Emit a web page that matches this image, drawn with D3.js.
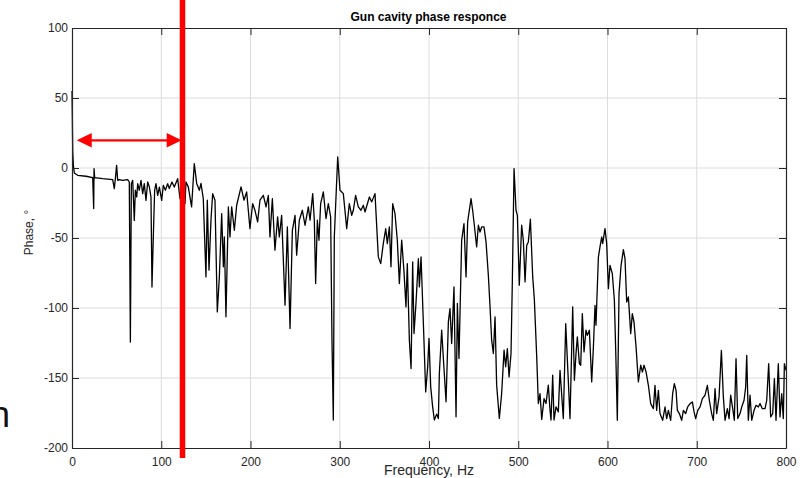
<!DOCTYPE html>
<html>
<head>
<meta charset="utf-8">
<script src="https://cdn.jsdelivr.net/npm/d3@7"></script>
<style>
  html, body { margin: 0; padding: 0; background: #fff; }
  svg { display: block; }
  text { font-family: "Liberation Sans", Arial, Helvetica, sans-serif; }
</style>
</head>
<body>
<svg id="chart" width="800" height="478"></svg>
<script>
// ---------------- data ----------------
const chartTitle = "Gun cavity phase responce";
const xLabel = "Frequency, Hz";
const yLabel = "Phase, \u00B0";
const xTicks = [0, 100, 200, 300, 400, 500, 600, 700, 800];
const yTicks = [100, 50, 0, -50, -100, -150, -200];

// frequency (Hz)
const freqHz = [
  0, 0.4, 0.8, 1.5, 2.6, 6.3, 15.7, 23.2, 24.3, 24.7, 25.4, 34.4, 45.6, 47.4, 48.6, 50, 51.2, 53, 56.8, 62.4,
  64.2, 65.4, 66.5, 68, 69.8, 71, 72.5, 73.6, 75.4, 77.3, 79.2, 81, 82.9, 84.8, 86.7, 88.5, 89.6, 91.1, 92.6, 94.1,
  96, 97.9, 100.5, 102.3, 104.6, 107.2, 109, 112, 114.6, 118.4, 121, 123.5,
  126.6, 127.7, 130.3, 134, 137, 139.7, 142.7, 144.5, 147.1, 150.1, 151.6, 153.5, 155.7, 157.6, 160.2, 162.8, 165.1, 167.7,
  169.6, 170.7, 172.5, 175.2, 177, 178.9, 181.9, 184.5, 189.4, 192.7, 195.7, 199.4, 202.4, 205, 208, 210.6, 214.4, 217.4,
  220, 221.8, 224.5, 227.4, 230.4, 232.3, 234.9, 238.7, 241.3, 244.3, 246.9, 249.9, 251.7, 254.7, 258.1, 261.1, 264.8, 266.7,
  269.7, 271.5, 273, 274.9, 276.7, 278.6, 281.6, 284.6, 287.2, 289.8, 291.3, 292.8, 293.9, 297.7, 300.3, 304, 307.8, 310.7,
  313.4, 315.2, 317.8, 320.8, 323.8, 326.4, 328.3, 333.2, 335.8, 339.5,
  343.2, 345.9, 348.8, 351.5, 353.3, 355.6, 357.4, 359.3, 361.9, 364.5, 366.8, 369.4, 372, 374.2, 375.7, 378, 379.9, 381.7,
  383.2, 385.4, 388.1, 389.2, 391.1, 393.7, 396.3, 398.5, 400, 401.9, 404.1, 406, 408.6, 410.5, 411.6, 414.2, 416.1, 419.1,
  421.7, 423.5, 425.4, 428, 430.3, 431.8, 433.6, 436.6, 439.2, 441.5, 443.3, 447.1, 448.9, 450.8, 453.4, 455.3, 457.2, 459,
  461.6, 463.9, 466.5, 468.4, 470.2, 472.1, 474, 475.8, 478.8, 481.4, 484.1, 485.9, 487.8, 489.7, 491.9, 493.4, 495.3, 497.5,
  499, 501.2, 503.8, 505.7, 507.6, 509.5, 511.3, 513.6, 516.2, 518, 520.7, 522.5, 524.4, 526.3, 528.9, 531.1, 533.7, 535.6,
  536.7, 538.6, 540.1, 542.3, 544.9,
  546.8, 550.5, 553.2, 555.4, 558, 561, 562.9, 564.7, 566.2, 568.5, 570, 571.8, 573.7, 575.9, 577.4, 579.7, 582.3, 584.2,
  586, 587.1, 589.8, 591.6, 593.5, 594.6, 597.2, 599.1, 601, 602.8, 605.4, 607.7, 609.2, 611, 612.9, 615.2, 617.8, 619.6,
  621.5, 623.4, 626, 627.8, 629.7, 632, 634.6, 637.2, 639.1, 640.9, 643.2, 645.8, 648.4, 651.4, 653.2, 655.1, 657, 658.8,
  661.8, 664.5, 666.3, 668.2, 670.8, 673, 674.9, 676.8, 678.3, 680.5, 683.1, 685, 687.6, 689.8, 692.5, 695.1, 697, 698.8,
  701.1, 703.7, 706.3, 709.3, 711.9, 714.1, 716.7, 718.6, 720.5, 722.3, 725, 727.6, 729.8, 731.7, 734.3, 736.2, 738, 740.3,
  742.1, 744, 745.9, 748.5, 750.4, 753, 754.8, 756, 757.8, 759.7, 761.6, 764.2, 766.4, 769, 770.9, 773.5, 776.5, 778.4,
  780.6, 782.8, 785.1, 787, 788.8, 791.4, 793.3, 795.2, 797, 798.2, 800
];

// phase (degrees)
const phaseDeg = [
  55, 35, 12, 2, -3.6, -5.2, -5.9, -6.9, -29, -0.5, -6.9, -7.6, -8.3, -14.7, -7.6, 1.9, -8.8, -8.3, -8.8, -8.3,
  -10, -124.3, -11.2, -8.8, -37.4, -15.9, -20.7, -11.2, -15.9, -8.8, -18.3, -11.2, -23.1, -10, -13.6, -20.7, -85, -49.3, -15.9, -11.2,
  -19.5, -13.6, -23.1, -12.4, -15.9, -11.2, -14.7, -10, -13.6, -7.6, -21.9, -12,
  -25.4, -10, -13.5, -27.8, 3.1, -11, -15.9, -11, -21.9, -77.8, -23, -73, -37.3, -18.3, -23, -102.8, -77.8, -32.6,
  -70.6, -49.2, -106.3, -27.8, -49.2, -27.8, -44.5, -26.6, -13.5, -23, -17.1, -43.3, -25.4, -30.2, -38.5, -23, -19.5, -27.8,
  -19.5, -49.2, -21.9, -58.7, -34.9, -49.2, -33.8, -98, -42.1, -114.7, -44.5, -33.8, -62.3, -37.3, -30.2, -40.9, -27.8, -37.3,
  -18.3, -37.3, -82.5, -37.3, -51.6, -25.4, -17.1, -36.1, -25.4, -34.9, -123, -180, -49.2, 7.9, -15.9, -18.3, -43.3, -25.4,
  -33.8, -30.2, -19.5, -27.8, -30.2, -26.6, -31.4, -20.7, -24.2, -18.3,
  -63.5, -68.3, -54, -43.3, -54, -42.1, -70.6, -25.4, -32.6, -51.6, -82.5, -51.6, -74.2, -99.2, -68.3, -123, -143.2, -67.1,
  -118.2, -96.8, -64.7, -84.9, -63.5, -111.1, -159.9, -142, -121.8, -156.3, -170.6, -180, -175.8, -178.9, -146.8, -115.9, -136.1, -167,
  -109.9, -100.4, -125.4, -84.9, -177.7, -96.8, -136.1, -51.6, -39.7, -77.8, -38.5, -21.9, -30.2, -40.9, -56.4, -40.9, -45.7, -42.1,
  -42.1, -52.8, -76.6, -99.2, -123, -132.5, -106.3, -155.1, -178.9, -161.1, -130.1, -142, -129, -149.2, -132.5, -80.2, -0.4, -30.2,
  -33.8, -83.7, -40.9, -51.6, -81.4, -55.2, -52.8, -36.6, -77.8, -93.3, -134.9, -168.2, -161.1, -179.6, -164.7, -168.2, -155.1, -173,
  -180, -148, -180, -170.6, -174.2,
  -144.5, -179, -111.2, -142.1, -179, -99.3, -151.6, -132.6, -120.7, -139.7, -140.9, -104, -131.4, -115.9, -119.5, -115.9, -152.8, -127.8,
  -98.1, -112.3, -63.6, -56.4, -49.3, -54, -43.3, -54, -86.2, -69.5, -75.5, -94.5, -130.2, -180.2, -89.7, -69.5, -58.3, -64.7,
  -95.7, -92.1, -118.3, -104, -110, -127.8, -152.8, -140.9, -145.7, -140.9, -145.7, -155.2, -168.3, -171.9, -155.2, -173.1, -158.8, -175.4,
  -180.2, -170.7, -179, -173.1, -180.2, -161.1, -154, -158.8, -173.1, -175.4, -180.2, -173.1, -175.4, -170.7, -168.3, -167.1, -174.2, -179,
  -173.1, -170.7, -164.7, -162.3, -155.2, -165.9, -175.4, -180.2, -157.6, -175.4, -163.5, -130.2, -163.5, -180.2, -171.9, -179, -162.3, -171.9,
  -180.2, -136.2, -179, -175.4, -170.7, -165.9, -156.4, -133.8, -180.2, -162.3, -180.2, -173.1, -169.5, -170.7, -168.3, -171.9, -171.9, -165.9,
  -139.7, -177.8, -175.4, -150.4, -180.2, -139.7, -177.8, -161.1, -179, -139.7, -144.5
];

// annotation (Hz / degrees)
const markerFreq = 123.8;            // red vertical marker
const arrowFreqRange = [5.3, 122.9]; // red double arrow
const arrowPhase = 19.8;

// ---------------- drawing ----------------
const svg = d3.select("#chart");
const x = d3.scaleLinear().domain([0, 800]).range([72, 786]);
const y = d3.scaleLinear().domain([-200, 100]).range([448, 28]);
const axisColor = "#262626";
const fmt = d => String(d); // plain hyphen-minus like the reference

// grid
const grid = svg.append("g");
grid.selectAll("line.gx").data(xTicks.slice(1, -1)).enter().append("line")
  .attr("x1", d => x(d)).attr("x2", d => x(d)).attr("y1", y(100)).attr("y2", y(-200))
  .attr("stroke", "#dcdcdc").attr("stroke-width", 1);
grid.selectAll("line.gy").data(yTicks.slice(1, -1)).enter().append("line")
  .attr("y1", d => y(d)).attr("y2", d => y(d)).attr("x1", x(0)).attr("x2", x(800))
  .attr("stroke", "#dcdcdc").attr("stroke-width", 1);

// data line
const pts = freqHz.map((f, i) => [f, phaseDeg[i]]);
svg.append("path")
  .datum(pts)
  .attr("fill", "none")
  .attr("stroke", "#000")
  .attr("stroke-width", 1.3)
  .attr("stroke-linejoin", "round")
  .attr("d", d3.line().x(d => x(d[0])).y(d => y(d[1])));

// axes (MATLAB-like box, inward ticks)
const tickLen = 7;
const xAxisB = d3.axisBottom(x).tickValues(xTicks).tickSizeInner(-tickLen).tickSizeOuter(0).tickFormat(fmt);
const xAxisT = d3.axisTop(x).tickValues(xTicks).tickSizeInner(-tickLen).tickSizeOuter(0).tickFormat("");
const yAxisL = d3.axisLeft(y).tickValues(yTicks).tickSizeInner(-tickLen).tickSizeOuter(0).tickFormat(fmt);
const yAxisR = d3.axisRight(y).tickValues(yTicks).tickSizeInner(-tickLen).tickSizeOuter(0).tickFormat("");

function styleAxis(g) {
  g.select(".domain").attr("stroke", axisColor).attr("stroke-width", 1.2);
  g.selectAll(".tick line").attr("stroke", axisColor).attr("stroke-width", 1);
  g.selectAll(".tick text").attr("fill", axisColor).style("font-size", "12px")
    .style("font-family", '"Liberation Sans", Arial, sans-serif');
}
svg.append("g").attr("transform", `translate(0,${y(-200)})`).call(xAxisB).call(styleAxis)
  .selectAll(".tick text").attr("dy", null).attr("y", 18);
svg.append("g").attr("transform", `translate(0,${y(100)})`).call(xAxisT).call(styleAxis);
svg.append("g").attr("transform", `translate(${x(0)},0)`).call(yAxisL).call(styleAxis)
  .selectAll(".tick text").attr("x", -4);
svg.append("g").attr("transform", `translate(${x(800)},0)`).call(yAxisR).call(styleAxis);

// labels
svg.append("text").attr("x", 428.5).attr("y", 21).attr("text-anchor", "middle")
  .style("font-size", "12px").style("font-weight", "bold").attr("fill", "#000").text(chartTitle);
svg.append("text").attr("x", 429).attr("y", 475).attr("text-anchor", "middle")
  .style("font-size", "14px").attr("fill", axisColor).text(xLabel);
svg.append("text").attr("transform", "translate(33,232.5) rotate(-90)").attr("text-anchor", "middle")
  .style("font-size", "12px").attr("fill", axisColor).text(yLabel);

// clipped stray glyph at left edge (as in the reference)
svg.append("text").attr("x", -10).attr("y", 427).style("font-size", "36px").attr("fill", "#111").text("n");

// red marker line
svg.append("line")
  .attr("x1", x(markerFreq)).attr("x2", x(markerFreq))
  .attr("y1", 0).attr("y2", 458)
  .attr("stroke", "#ff0000").attr("stroke-width", 5.5);

// red double arrow
const ax0 = x(arrowFreqRange[0]), ax1 = x(arrowFreqRange[1]), ay = y(arrowPhase);
const headL = 15, headW = 7.3;
svg.append("line").attr("x1", ax0 + headL - 1).attr("x2", ax1 - headL + 1).attr("y1", ay).attr("y2", ay)
  .attr("stroke", "#ff0000").attr("stroke-width", 2.3);
svg.append("path").attr("fill", "#ff0000")
  .attr("d", `M${ax0},${ay}L${ax0 + headL},${ay - headW}L${ax0 + headL},${ay + headW}Z`);
svg.append("path").attr("fill", "#ff0000")
  .attr("d", `M${ax1},${ay}L${ax1 - headL},${ay - headW}L${ax1 - headL},${ay + headW}Z`);
</script>
</body>
</html>
